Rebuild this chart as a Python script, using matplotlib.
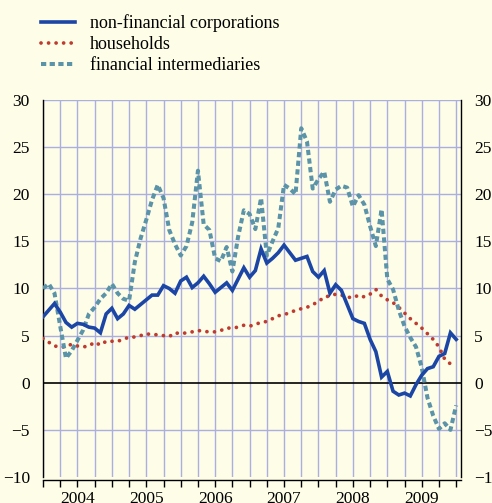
import numpy as np
import matplotlib
matplotlib.use("Agg")
import matplotlib.pyplot as plt
from matplotlib.ticker import FixedLocator, NullFormatter

plt.rcParams["font.family"] = ["Liberation Serif", "DejaVu Serif"]

# monthly observations, Dec 2003 .. Dec 2009 (annual growth rates, %)
non_financial = [
    7.0, 7.7, 8.4, 7.5, 6.4, 5.9, 6.3, 6.2, 5.9, 5.8, 5.3, 7.3,
    7.9, 6.8, 7.3, 8.2, 7.8, 8.3, 8.8, 9.3, 9.3, 10.3, 10.0, 9.5,
    10.8, 11.2, 10.1, 10.6, 11.3, 10.5, 9.6, 10.1, 10.6, 9.8, 11.0, 12.2,
    11.2, 11.9, 14.2, 12.7, 13.2, 13.8, 14.6, 13.8, 13.0, 13.2, 13.4, 11.8,
    11.2, 11.9, 9.5, 10.4, 9.8, 8.3, 6.8, 6.5, 6.3, 4.6, 3.3, 0.6,
    1.2, -0.9, -1.3, -1.1, -1.4, -0.2, 0.8, 1.5, 1.7, 2.8, 3.1, 5.3,
    4.6,
]
households = [
    4.7, 4.3, 3.9, 3.8, 3.8, 4.1, 3.9, 3.8, 3.9, 4.3, 4.0, 4.4,
    4.4, 4.4, 4.6, 4.85, 4.85, 5.0, 5.2, 5.1, 5.1, 5.0, 4.9, 5.3,
    5.2, 5.3, 5.4, 5.55, 5.45, 5.4, 5.4, 5.55, 5.8, 5.8, 5.9, 6.1,
    6.0, 6.2, 6.4, 6.5, 6.8, 7.1, 7.25, 7.4, 7.7, 7.85, 8.0, 8.3,
    8.6, 9.1, 9.2, 9.4, 9.3, 9.1, 9.0, 9.3, 9.1, 9.4, 9.9, 9.2,
    8.8, 8.5, 8.0, 7.4, 6.8, 6.3, 5.8, 5.2, 4.6, 3.8, 2.5, 2.0,
]
financial = [
    10.0, 10.5, 9.5, 6.0, 2.6, 3.4, 4.5, 5.6, 7.3, 8.0, 8.9, 9.5,
    10.5, 9.5, 8.9, 8.7, 12.8, 15.3, 17.3, 19.4, 21.0, 19.6, 16.2, 14.7,
    13.5, 14.5, 17.0, 22.5, 16.8, 16.2, 13.2, 12.9, 14.4, 11.8, 15.5, 18.3,
    17.9, 16.3, 19.6, 13.5, 15.0, 16.4, 21.0, 20.6, 20.0, 27.0, 25.6, 20.6,
    21.6, 22.4, 19.2, 20.5, 20.9, 20.7, 18.7, 19.9, 18.9, 16.6, 14.5, 18.4,
    11.0, 9.9, 7.7, 6.0, 4.8, 3.8, 1.6, -1.6, -3.5, -4.9, -4.3, -5.0,
    -2.4,
]
labels = ["non-financial corporations", "households", "financial intermediaries"]
years = ["2004", "2005", "2006", "2007", "2008", "2009"]

bg = "#fefde8"
grid_col = "#abafe0"

fig = plt.figure(figsize=(4.92, 5.03), dpi=100, facecolor=bg)
ax = fig.add_axes([0.0874, 0.0517, 0.8496, 0.7495], facecolor=bg)


def months(vals):
    return 2004 + np.arange(len(vals)) / 12.0


ax.plot(months(non_financial), non_financial, color="#1c46a5", lw=2.6,
        solid_joinstyle="miter", label=labels[0], zorder=4)
ax.plot(months(households), households, color="#bf3a2f", lw=2.7,
        linestyle=(0, (0.01, 2.0)), dash_capstyle="round",
        label=labels[1], zorder=3)
ax.plot(months(financial), financial, color="#5b93a8", lw=2.9,
        linestyle=(0, (1.3, 0.85)), label=labels[2], zorder=3)

ax.set_xlim(2004, 2010.07)
ax.set_ylim(-10, 30)

# quarterly tick marks, year labels centred on mid-year
ax.xaxis.remove_overlapping_locs = False
ax.xaxis.set_major_locator(FixedLocator(2004 + np.arange(25) * 0.25))
ax.xaxis.set_major_formatter(NullFormatter())
ax.xaxis.set_minor_locator(FixedLocator([int(y) + 0.5 for y in years]))
ax.set_xticklabels(years, minor=True)
ax.tick_params(axis="x", which="major", direction="out", length=5, width=1)
ax.tick_params(axis="x", which="minor", length=0, pad=7.5, labelsize=12.5)

ax.set_yticks(np.arange(-10, 31, 5))
ax.tick_params(axis="y", left=False, right=False, labelleft=True,
               labelright=True, pad=6, labelsize=12.5)

ax.grid(True, which="major", color=grid_col, lw=1.0, zorder=0)
ygl = ax.get_ygridlines()
ygl[0].set_visible(False)
ygl[2].set_visible(False)
ax.axhline(0, color="black", lw=1.2, zorder=2)

ax.spines["top"].set_visible(False)
ax.spines["bottom"].set_position(("outward", 2.5))
for s in ["left", "right", "bottom"]:
    ax.spines[s].set_linewidth(1.0)

fig.legend(loc="upper left", bbox_to_anchor=(0.068, 0.986), frameon=False,
           fontsize=13, handlelength=1.9, handletextpad=0.85,
           labelspacing=0.22, borderaxespad=0)

fig.savefig("out.png", dpi=100, facecolor=bg)
